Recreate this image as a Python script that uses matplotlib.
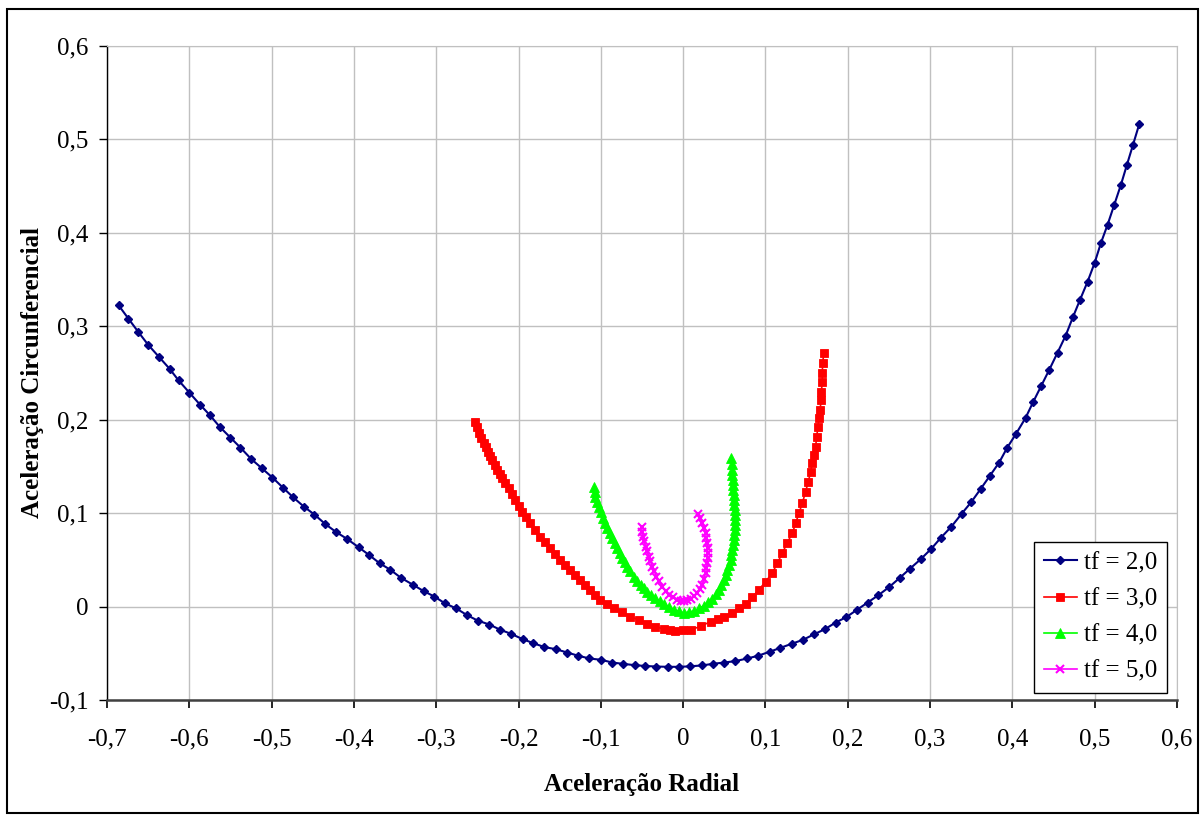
import matplotlib
matplotlib.use("Agg")
import matplotlib.pyplot as plt
from matplotlib.patches import Rectangle

# tick values and labels (comma decimal, as in the original chart)
x_ticks = [-0.7, -0.6, -0.5, -0.4, -0.3, -0.2, -0.1, 0.0, 0.1, 0.2, 0.3, 0.4, 0.5, 0.6]
x_tick_labels = ["-0,7", "-0,6", "-0,5", "-0,4", "-0,3", "-0,2", "-0,1", "0",
                 "0,1", "0,2", "0,3", "0,4", "0,5", "0,6"]
y_ticks = [-0.1, 0.0, 0.1, 0.2, 0.3, 0.4, 0.5, 0.6]
y_tick_labels = ["-0,1", "0", "0,1", "0,2", "0,3", "0,4", "0,5", "0,6"]

# tf = 2,0
x_tf2 = [-0.686, -0.674, -0.662, -0.650, -0.637, -0.624, -0.613, -0.600, -0.587, -0.575,
         -0.563, -0.550, -0.538, -0.525, -0.512, -0.499, -0.486, -0.474, -0.461, -0.448,
         -0.435, -0.422, -0.409,
         -0.3944, -0.3814, -0.3689, -0.3558, -0.3428, -0.3287, -0.3153, -0.3023, -0.2898,
         -0.2756, -0.2626, -0.2497, -0.2354, -0.2221, -0.2091, -0.1950, -0.1823, -0.1686,
         -0.1548, -0.1410, -0.1272, -0.1138, -0.0996, -0.0862, -0.0733, -0.0591, -0.0461,
         -0.0324, -0.0186, -0.0048, 0.0081,
         0.0232, 0.0361, 0.0500, 0.0634, 0.0779, 0.0908, 0.1051, 0.1181, 0.1318, 0.1456,
         0.1586, 0.1723, 0.1853, 0.1983, 0.2112, 0.2242, 0.2373, 0.2501, 0.2632, 0.2757,
         0.2887, 0.3017, 0.3130, 0.3260,
         0.3382, 0.3499, 0.3613, 0.3726, 0.3839, 0.3936, 0.4046, 0.4160, 0.4253, 0.4350,
         0.4447, 0.4549, 0.4647,
         0.4735, 0.4821, 0.4914, 0.4999, 0.5076, 0.5157, 0.5238, 0.5319, 0.5392, 0.5465,
         0.5542]
y_tf2 = [0.3224, 0.3080, 0.2938, 0.2800, 0.2672, 0.2544, 0.2419, 0.2289, 0.2160, 0.2047,
         0.1922, 0.1807, 0.1701, 0.1580, 0.1480, 0.1380, 0.1270, 0.1170, 0.1070, 0.0984,
         0.0884, 0.0799, 0.0727,
         0.0635, 0.0550, 0.0464, 0.0393, 0.0307, 0.0235, 0.0165, 0.0107, 0.0036,
         -0.0021, -0.0092, -0.0150, -0.0193, -0.0249, -0.0292, -0.0349, -0.0391, -0.0434,
         -0.0456, -0.0492, -0.0527, -0.0556, -0.0570, -0.0599, -0.0613, -0.0627, -0.0636,
         -0.0642, -0.0645, -0.0645, -0.0640,
         -0.0630, -0.0613, -0.0599, -0.0584, -0.0556, -0.0527, -0.0484, -0.0442, -0.0399,
         -0.0356, -0.0299, -0.0242, -0.0171, -0.0113, -0.0035, 0.0043, 0.0122, 0.0207,
         0.0307, 0.0406, 0.0507, 0.0620, 0.0735, 0.0856,
         0.0991, 0.1116, 0.1256, 0.1398, 0.1540, 0.1698, 0.1850, 0.2018, 0.2189, 0.2360,
         0.2531, 0.2717, 0.2898,
         0.3095, 0.3280, 0.3476, 0.3676, 0.3890, 0.4086, 0.4299, 0.4513, 0.4727, 0.4938,
         0.5163]

# tf = 3,0
x_tf3 = [-0.2533, -0.2509, -0.2485, -0.2455, -0.2424, -0.2400, -0.2375, -0.2349, -0.2322, -0.2292,
         -0.2261, -0.2231, -0.2200, -0.2160, -0.2120, -0.2079, -0.2038, -0.1998, -0.1957, -0.1907,
         -0.1856, -0.1795, -0.1734, -0.1674, -0.1613, -0.1552, -0.1491, -0.1430, -0.1369, -0.1309,
         -0.1248, -0.1187, -0.1126, -0.1066, -0.1005, -0.0924, -0.0843, -0.0741, -0.0640, -0.0538,
         -0.0437, -0.0336, -0.0235, -0.0164, -0.0093, -0.0002, 0.0090, 0.0212, 0.0333, 0.0418,
         0.0495, 0.0597, 0.0678, 0.0759, 0.0840, 0.0920, 0.1002, 0.1083, 0.1144, 0.1205,
         0.1266, 0.1327, 0.1367, 0.1407, 0.1448, 0.1488, 0.1521, 0.1549, 0.1570, 0.1589,
         0.1610, 0.1622, 0.1638, 0.1650, 0.1662, 0.1679, 0.1679, 0.1691, 0.1691, 0.1695, 0.1711]
y_tf3 = [0.1979, 0.1917, 0.1855, 0.1801, 0.1748, 0.1703, 0.1658, 0.1613, 0.1569, 0.1515,
         0.1462, 0.1417, 0.1373, 0.1320, 0.1266, 0.1203, 0.1141, 0.1078, 0.1016, 0.0954,
         0.0892, 0.0820, 0.0749, 0.0687, 0.0625, 0.0562, 0.0500, 0.0446, 0.0393, 0.0339,
         0.0286, 0.0232, 0.0179, 0.0125, 0.0072, 0.0027, -0.0017, -0.0062, -0.0107, -0.0146,
         -0.0185, -0.0214, -0.0242, -0.0250, -0.0257, -0.0255, -0.0249, -0.0212, -0.0161, -0.0132,
         -0.0107, -0.0064, -0.0017, 0.0029, 0.0101, 0.0179, 0.0267, 0.0357, 0.0464, 0.0571,
         0.0684, 0.0785, 0.0892, 0.0999, 0.1106, 0.1230, 0.1337, 0.1444, 0.1534, 0.1622,
         0.1711, 0.1818, 0.1919, 0.2015, 0.2104, 0.2211, 0.2299, 0.2406, 0.2503, 0.2610, 0.2717]

# tf = 4,0
x_tf4 = [-0.1086, -0.1076, -0.1065, -0.1045, -0.1025, -0.0999, -0.0972, -0.0948, -0.0923, -0.0893,
         -0.0862, -0.0832, -0.0801, -0.0771, -0.0741, -0.0711, -0.0680, -0.0640, -0.0600, -0.0559,
         -0.0518, -0.0478, -0.0437, -0.0387, -0.0336, -0.0286, -0.0235, -0.0174, -0.0113, -0.0053,
         0.0008, 0.0069, 0.0130, 0.0191, 0.0252, 0.0303, 0.0354, 0.0394, 0.0434, 0.0465,
         0.0495, 0.0516, 0.0536, 0.0556, 0.0576, 0.0587, 0.0597, 0.0607, 0.0617, 0.0621,
         0.0625, 0.0627, 0.0629, 0.0627, 0.0625, 0.0621, 0.0617, 0.0613, 0.0609, 0.0605,
         0.0601, 0.0599, 0.0597, 0.0591, 0.0585]
y_tf4 = [0.1283, 0.1230, 0.1176, 0.1123, 0.1070, 0.1008, 0.0945, 0.0892, 0.0838, 0.0785,
         0.0732, 0.0679, 0.0625, 0.0572, 0.0518, 0.0473, 0.0428, 0.0375, 0.0321, 0.0277,
         0.0232, 0.0196, 0.0160, 0.0125, 0.0090, 0.0060, 0.0030, -0.0003, -0.0035, -0.0052,
         -0.0068, -0.0059, -0.0050, -0.0020, 0.0010, 0.0048, 0.0085, 0.0132, 0.0179, 0.0233,
         0.0286, 0.0340, 0.0393, 0.0446, 0.0499, 0.0553, 0.0606, 0.0660, 0.0713, 0.0767,
         0.0820, 0.0874, 0.0927, 0.0981, 0.1034, 0.1088, 0.1141, 0.1195, 0.1248, 0.1302,
         0.1355, 0.1409, 0.1462, 0.1525, 0.1587]

# tf = 5,0
x_tf5 = [-0.0506, -0.0496, -0.0485, -0.0471, -0.0457, -0.0437, -0.0417, -0.0397, -0.0376, -0.0350,
         -0.0324, -0.0289, -0.0254, -0.0214, -0.0174, -0.0123, -0.0072, -0.0032, 0.0008, 0.0049,
         0.0090, 0.0131, 0.0171, 0.0202, 0.0232, 0.0252, 0.0272, 0.0283, 0.0293, 0.0297,
         0.0300, 0.0297, 0.0293, 0.0283, 0.0272, 0.0252, 0.0232, 0.0206, 0.0179]
y_tf5 = [0.0849, 0.0799, 0.0749, 0.0696, 0.0642, 0.0589, 0.0535, 0.0482, 0.0428, 0.0375,
         0.0321, 0.0268, 0.0214, 0.0170, 0.0125, 0.0099, 0.0072, 0.0063, 0.0054, 0.0067,
         0.0079, 0.0111, 0.0143, 0.0188, 0.0232, 0.0295, 0.0357, 0.0411, 0.0464, 0.0518,
         0.0571, 0.0625, 0.0678, 0.0732, 0.0785, 0.0839, 0.0892, 0.0942, 0.0991]

plt.rcParams['font.family'] = ['Liberation Serif', 'DejaVu Serif']
plt.rcParams['font.size'] = 18

fig = plt.figure(figsize=(12.04, 8.16), dpi=100)
fig.patch.set_facecolor("white")

# outer chart frame
fig.patches.append(Rectangle((7 / 1204, 3 / 816), 1191 / 1204, 804 / 816,
                             transform=fig.transFigure, fill=False,
                             edgecolor="black", linewidth=1.5))

ax = fig.add_axes([107 / 1204, 1 - 700 / 816, 1070 / 1204, 654.3 / 816])

ax.plot(x_tf2, y_tf2, color="#000080", linewidth=1.5, marker="D", markersize=4.2,
        label="tf = 2,0", zorder=3)
ax.plot(x_tf3, y_tf3, color="#FF0000", linewidth=1.2, marker="s", markersize=6,
        markeredgewidth=0.6, label="tf = 3,0", zorder=4)
ax.plot(x_tf4, y_tf4, color="#00FF00", linewidth=1.2, marker="^", markersize=6.5,
        markeredgewidth=0.6, label="tf = 4,0", zorder=5)
ax.plot(x_tf5, y_tf5, color="#FF00FF", linewidth=1.2, marker="x", markersize=6,
        markeredgewidth=1.5, label="tf = 5,0", zorder=6)

ax.set_xlim(-0.7, 0.6)
ax.set_ylim(-0.1, 0.6)
ax.set_xticks(x_ticks)
ax.set_xticklabels(x_tick_labels)
ax.set_yticks(y_ticks)
ax.set_yticklabels(y_tick_labels)

ax.grid(True, color="#C0C0C0", linewidth=1.0)
ax.set_axisbelow(True)

ax.spines["top"].set_color("#C0C0C0")
ax.spines["right"].set_color("#C0C0C0")
ax.spines["left"].set_color("black")
ax.spines["left"].set_linewidth(1.0)
ax.spines["bottom"].set_color("#404040")
ax.spines["bottom"].set_linewidth(1.8)

ax.tick_params(axis="x", direction="out", length=5.5, width=1.2, pad=15, labelsize=18)
ax.tick_params(axis="y", direction="out", length=5.5, width=1.0, pad=8, labelsize=18)

ax.set_xlabel("Aceleração Radial", fontsize=18, fontweight="bold")
ax.set_ylabel("Aceleração Circunferencial", fontsize=18, fontweight="bold")
ax.xaxis.set_label_coords(0.5, -0.112)
ax.yaxis.set_label_coords(-0.059, 0.5)

leg = ax.legend(loc="lower right", bbox_to_anchor=(0.991, 0.011), borderaxespad=0,
                fancybox=False, edgecolor="black", framealpha=1, fontsize=18,
                handlelength=1.3, labelspacing=0.55, borderpad=0.4, handletextpad=0.3)
leg.get_frame().set_linewidth(1.0)

fig.savefig("out.png", dpi=100, facecolor="white")
